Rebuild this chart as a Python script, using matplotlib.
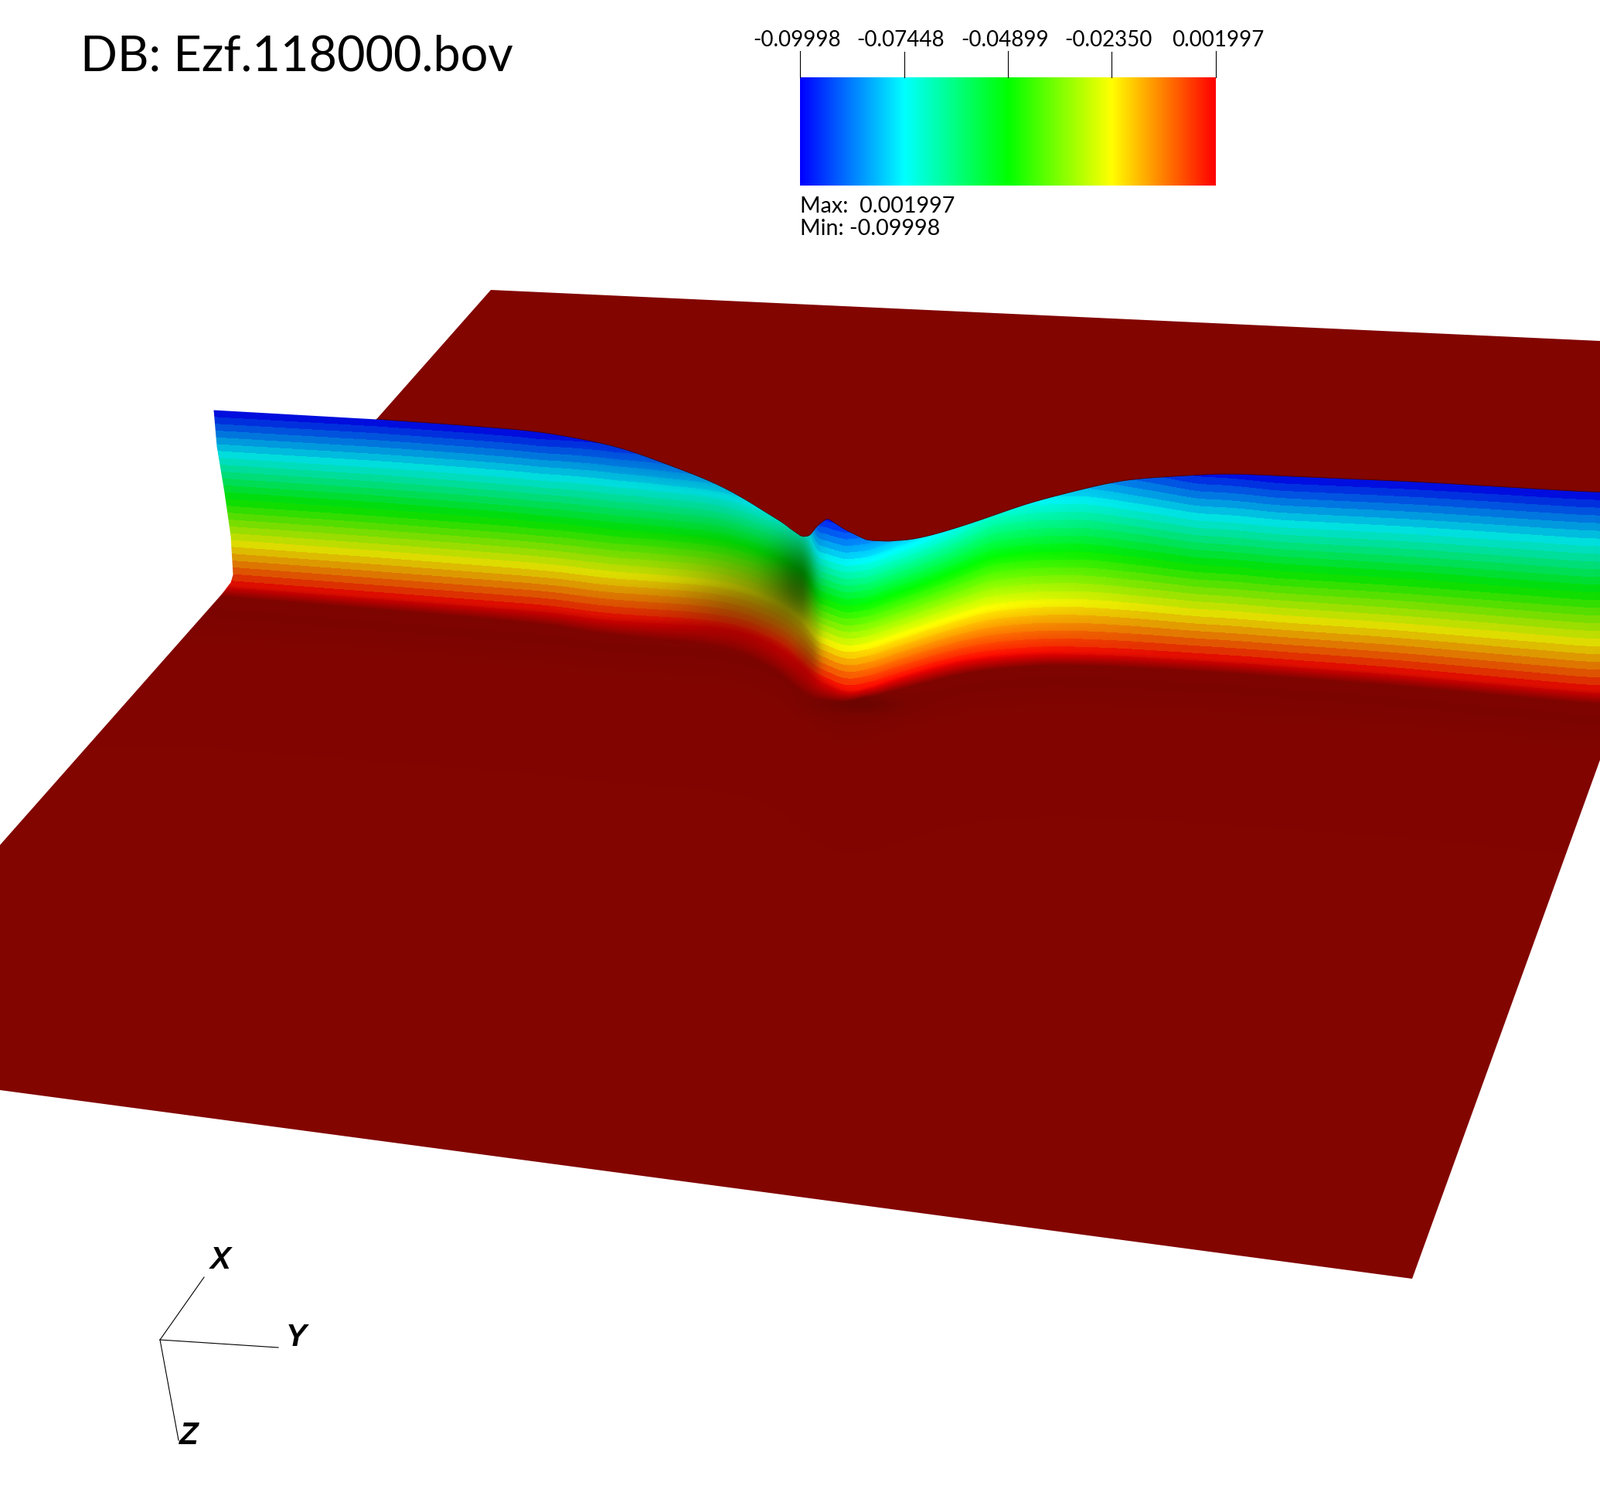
import numpy as np
import matplotlib
matplotlib.use("Agg")
import matplotlib.pyplot as plt
from matplotlib.colors import LinearSegmentedColormap
from matplotlib.patches import Polygon

W, H = 2070, 1926

# colour bar
vmin, vmax = -0.09998, 0.001997
bar_ticks = ["-0.09998", "-0.07448", "-0.04899", "-0.02350", "0.001997"]
bar_tick_vals = [-0.09998, -0.07448, -0.04899, -0.02350, 0.001997]
bar_label_x = [1031, 1165, 1300, 1434, 1576]
bar_tick_top = [66, 67, 66, 67, 66]

# flat sheet outline, read in image pixels
sheet_x = [635, 2070, 2070, 1827, 0, 0]
sheet_y = [375, 441, 983, 1654, 1410, 1093]

# crest of the ridge
top_x = [276, 487, 600, 700, 800, 867, 933, 983, 1017, 1037, 1047, 1057, 1070, 1093, 1120, 1153, 1187, 1220, 1280,
         1320, 1386, 1452, 1584, 1716, 1833, 2070]
top_y = [530, 542, 550, 558, 577, 602, 627, 657, 680, 694, 693, 680, 670, 685, 698, 702, 698, 688, 669,
         653, 636, 620, 612, 618, 623, 637]

# foot of the ridge, where it meets the sheet
foot_x = [276, 305, 600, 730, 767, 920, 987, 1020, 1053, 1087, 1103, 1137, 1187, 1253, 1350, 1450, 1600, 1800, 2070]
foot_y = [757, 760, 783, 793, 801, 810, 823, 847, 877, 893, 895, 887, 870, 853, 845, 848, 857, 872, 897]
fade_x = [276, 600, 800, 950, 1030, 1103, 1200, 1400, 2070]
fade_w = [8, 9, 12, 16, 22, 6, 10, 9, 9]

# data value at the crest, 0 = minimum, 1 = maximum
crest_x = [276, 700, 800, 867, 933, 983, 1017, 1037, 1047, 1057, 1070, 1093, 1120, 1153, 1187, 1280, 1320, 1400, 1460, 1550, 1650, 2070]
crest_u = [0.0, 0.0, 0.05, 0.12, 0.20, 0.26, 0.30, 0.32, 0.25, 0.08, 0.02, 0.06, 0.13, 0.19, 0.23, 0.30, 0.27, 0.20, 0.12, 0.03, 0.0, 0.0]

# left end of the ridge
left_y = [530, 577, 637, 693, 743, 753, 775]
left_x = [276, 280, 290, 298, 301, 298, 280]

# how visible the level bands are along the ridge
band_x = [276, 700, 850, 960, 1040, 1070, 1105, 1135, 1300, 1500, 2070]
band_w = [1.0, 1.0, 0.6, 0.3, 0.15, 1.0, 0.8, 0.25, 0.25, 1.0, 1.0]

# lighting along the ridge
light_x = [276, 800, 950, 1070, 1130, 1280, 1500, 2070]
light_v = [0.87, 0.87, 0.85, 0.95, 1.0, 1.0, 0.89, 0.87]

# dark patches: x, y, width left, width right, height, strength
dark_x = [1035, 985, 1050]
dark_y = [760, 775, 845]
dark_l = [38, 95, 25]
dark_r = [20, 55, 12]
dark_h = [62, 55, 40]
dark_s = [0.50, 0.32, 0.25]

stops = ["#0000ff", "#00ffff", "#00ff00", "#ffff00", "#ff0000"]
hot = LinearSegmentedColormap.from_list("hot_visit", stops)
n_levels = 26
sheet_rgb = np.array([130, 5, 0]) / 255.0


def box(v, k):
    pad = np.r_[np.full(k, v[0]), v, np.full(k, v[-1])]
    return np.convolve(pad, np.ones(k) / k, mode="same")[k:-k]


def curve(xs, ys, k=9, wide=61):
    # keep the notch at the peak sharp, smooth the long runs harder
    v = np.interp(np.arange(W), xs, ys)
    fine = box(v, k)
    soft = box(box(v, wide), wide)
    near = box(np.where(np.abs(np.arange(W) - 1075) < 70, 1.0, 0.0), 31)
    return near * fine + (1 - near) * soft


fig = plt.figure(figsize=(W / 100, H / 100), dpi=100, facecolor="white")
ax = fig.add_axes([0, 0, 1, 1])
ax.set_xlim(0, W)
ax.set_ylim(H, 0)
ax.axis("off")

yy, xx = np.mgrid[0:H, 0:W]
top = curve(top_x, top_y, 7)
top[:500] = np.interp(np.arange(500), top_x, top_y)
foot = curve(foot_x, foot_y, 15)
foot[:330] = np.interp(np.arange(330), foot_x, foot_y)
fade = curve(fade_x, fade_w, 31)
crest = curve(crest_x, crest_u, 9, 21)
bands = curve(band_x, band_w, 15, 21)
light = curve(light_x, light_v, 31)

# sheet, with the faint shadow under the ridge
sheet = np.ones((H, W, 3)) * sheet_rgb
dim = 1 - 0.04 * np.exp(-(((yy - foot[xx] - 35) / 30.0) ** 2))
dim = dim - 0.14 * np.exp(-(((xx - 1110) / 50.0) ** 2 + ((yy - 910) / 12.0) ** 2))
sheet = sheet * dim[..., None]
outline = Polygon(np.c_[sheet_x, sheet_y], closed=True, transform=ax.transData, fc="none", ec="none")
ax.add_patch(outline)
im = ax.imshow(sheet, extent=(0, W, H, 0), aspect="auto", interpolation="nearest", zorder=1)
im.set_clip_path(outline)

# ridge wall
frac = np.clip((yy - top[xx]) / (foot[xx] - top[xx]), 0, 1)
u = crest[xx] + (1 - crest[xx]) * frac
stepped = (np.floor(u * n_levels) + 0.5) / n_levels
u = bands[xx] * stepped + (1 - bands[xx]) * u
rgb = hot(u)[..., :3] * light[xx][..., None]
shade = np.ones((H, W))
for i in range(len(dark_x)):
    dx = xx - dark_x[i]
    sx = np.where(dx < 0, dark_l[i], dark_r[i])
    shade *= 1 - dark_s[i] * np.exp(-((dx / sx) ** 2 + ((yy - dark_y[i]) / dark_h[i]) ** 2))
rgb = rgb * shade[..., None]

alpha = np.clip(yy - top[xx] + 0.5, 0, 1)
alpha *= np.clip(0.5 - (yy - foot[xx] - 0.6 * fade[xx]) / (2 * fade[xx]), 0, 1)
alpha *= np.clip(xx - np.interp(yy, left_y, left_x) + 0.5, 0, 1)
wall = np.dstack([rgb, alpha])
ax.imshow(wall, extent=(0, W, H, 0), aspect="auto", interpolation="nearest", zorder=2)
ax.set_xlim(0, W)
ax.set_ylim(H, 0)

# thin dark rim along the crest, only where it lies over the sheet
c = np.arange(487, W)
ax.plot(c, top[c], color="black", lw=0.6, alpha=0.45, zorder=3)

# colour bar
bar_l, bar_r, bar_t, bar_b = 1035, 1573, 100, 240
grad = np.linspace(vmin, vmax, 256)[None, :]
ax.imshow(grad, cmap=hot, vmin=vmin, vmax=vmax, extent=(bar_l, bar_r, bar_b, bar_t), aspect="auto", zorder=2)
ax.set_xlim(0, W)
ax.set_ylim(H, 0)
for i, v in enumerate(bar_tick_vals):
    tx = bar_l + (v - vmin) / (vmax - vmin) * (bar_r - bar_l)
    ax.plot([tx, tx], [bar_tick_top[i], bar_t], color="black", lw=0.8, zorder=3)
    ax.text(bar_label_x[i], 52, bar_ticks[i], family="Lato", fontsize=20, ha="center", va="center", color="black")

ax.text(bar_l, 267, "Max:  0.001997", family="Lato", fontsize=20.7, ha="left", va="center", color="black")
ax.text(bar_l, 296, "Min: -0.09998", family="Lato", fontsize=20.7, ha="left", va="center", color="black")
ax.text(104, 74, "DB: Ezf.118000.bov", family="Lato", fontsize=45.4, ha="left", va="center", color="black")

# axis triad
origin = (207, 1733)
ends = {"X": (264, 1652), "Y": (360, 1743), "Z": (231, 1863)}
label_pos = {"X": (285, 1630), "Y": (383, 1730), "Z": (244, 1857)}
for name, e in ends.items():
    ax.plot([origin[0], e[0]], [origin[1], e[1]], color="black", lw=0.8, zorder=3)
    ax.text(label_pos[name][0], label_pos[name][1], name, family="Liberation Sans", fontsize=29, style="italic",
            weight="bold", ha="center", va="center", color="black")

fig.savefig("out.png", dpi=100, facecolor="white")
